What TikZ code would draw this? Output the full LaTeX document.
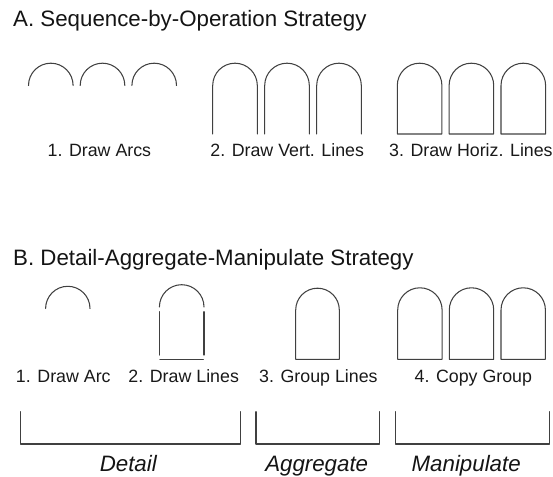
\documentclass[tikz,border=0pt]{standalone}
\usepackage{fontspec}
\setmainfont{Liberation Sans}
\begin{document}
\begin{tikzpicture}[x=1pt,y=1pt,
  ln/.style={draw=black!75,line width=1.05pt,line cap=round,line join=round},
  ttl/.style={anchor=base west,inner sep=0pt,text=black!92,font=\fontsize{22.3}{26}\selectfont},
  lbl/.style={anchor=base,inner sep=0pt,text=black!90,font=\fontsize{17.8}{21}\selectfont},
  cat/.style={anchor=base,inner sep=0pt,text=black!92,font=\fontsize{22.3}{26}\selectfont\itshape}]
\useasboundingbox (0,0) rectangle (553,476);
% ---------- Section A ----------
\node[ttl] (ta) at (13,449) {A. Sequence-by-Operation Strategy};
% 1. arcs
\foreach \l in {28.5,80.2,131.9}
  \draw[ln] (\l,390.5) arc[start angle=180,end angle=0,radius=22.3];
% 2. arcs with vertical lines
\foreach \l in {212.7,264.7,316.7}
  \draw[ln] (\l,342) -- (\l,390.5) arc[start angle=180,end angle=0,radius=22.3] -- ++(0,-48.5);
% 3. closed arches
\foreach \l in {397.3,449.1,501}
  \draw[ln] (\l,342) -- (\l,390.5) arc[start angle=180,end angle=0,radius=22.3] -- ++(0,-48.5) -- cycle;
\node[lbl] (la1) at (99.4,319) {1. Draw Arcs};
\node[lbl] (la2) at (287.2,319) {2. Draw Vert. Lines};
\node[lbl] (la3) at (470.9,319) {3. Draw Horiz. Lines};
% ---------- Section B ----------
\node[ttl] (tb) at (13,210) {B. Detail-Aggregate-Manipulate Strategy};
% 1. arc
\draw[ln] (45.6,167.5) arc[start angle=180,end angle=0,radius=22.2];
% 2. lines
\draw[ln] (159.4,169) arc[start angle=180,end angle=0,radius=22.3];
\draw[ln] (159.4,164.3) -- (159.4,121);
\draw[ln] (204,164.3) -- (204,121);
\draw[ln] (160,116.7) -- (203.4,116.7);
% 3. group
\draw[ln] (295.7,116.7) -- (295.7,166) arc[start angle=180,end angle=0,radius=21.8] -- (339.3,116.7) -- cycle;
% 4. copy group
\foreach \l in {397.7,449.3,501}
  \draw[ln] (\l,116.7) -- (\l,166) arc[start angle=180,end angle=0,radius=22.2] -- ++(0,-49.3) -- cycle;
\node[lbl] (lb1) at (63.3,93) {1. Draw Arc};
\node[lbl] (lb2) at (183.7,93) {2. Draw Lines};
\node[lbl] (lb3) at (318.4,93) {3. Group Lines};
\node[lbl] (lb4) at (473.3,93) {4. Copy Group};
% brackets
\draw[ln] (20.7,64.3) -- (20.7,32) -- (240.7,32) -- (240.7,64.3);
\draw[ln] (256,64.3) -- (256,32) -- (379.3,32) -- (379.3,64.3);
\draw[ln] (395.7,64.3) -- (395.7,32) -- (549.3,32) -- (549.3,64.3);
\node[cat] (cd) at (128.3,4.8) {Detail};
\node[cat] (cg) at (316.7,4.8) {Aggregate};
\node[cat] (cm) at (466.2,4.8) {Manipulate};
\end{tikzpicture}
\end{document}
